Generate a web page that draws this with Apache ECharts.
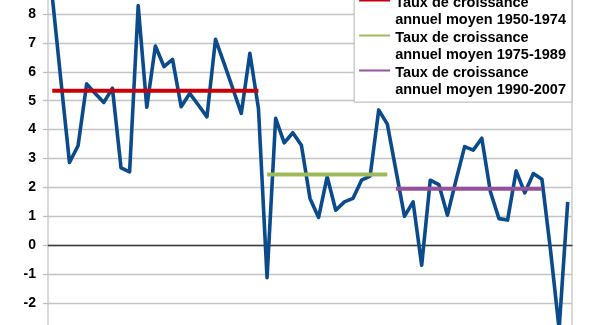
<!DOCTYPE html>
<html>
<head>
<meta charset="utf-8">
<script src="https://cdn.jsdelivr.net/npm/echarts@6/dist/echarts.min.js"></script>
<style>
html,body{margin:0;padding:0;background:#fff;overflow:hidden;width:600px;height:325px;}
#c{position:absolute;left:0;top:-14.87px;width:600px;height:346.5px;}
</style>
</head>
<body>
<div id="c"></div>
<script>
var years = [];
for (var y = 1950; y <= 2010; y++) years.push(String(y));

var growth = [8.6, 5.7, 2.86, 3.44, 5.58, 5.25, 4.94, 5.43, 2.68, 2.54,
  8.29, 4.77, 6.89, 6.18, 6.43, 4.79, 5.25, 4.85, 4.44, 7.12,
  6.29, 5.43, 4.56, 6.64, 4.73, -1.12, 4.39, 3.54, 3.89, 3.46,
  1.62, 0.96, 2.37, 1.21, 1.50, 1.62, 2.25, 2.39, 4.68, 4.19,
  2.6, 1.0, 1.5, -0.69, 2.25, 2.1, 1.04, 2.25, 3.41, 3.29,
  3.70, 1.85, 0.92, 0.87, 2.57, 1.81, 2.48, 2.28, -0.17, -2.9,
  1.5];

var avgNames = ["Taux de croissance\nannuel moyen 1950-1974",
                "Taux de croissance\nannuel moyen 1975-1989",
                "Taux de croissance\nannuel moyen 1990-2007"];
var avgValues = [5.34, 2.45, 1.95];
var avgStart = [1950, 1975, 1990];
var avgEnd = [1974, 1989, 2007];
var avgColors = ["#c8000a", "#9bbb59", "#93529c"];

function avgSeries(k) {
  return years.map(function (yr) {
    var n = Number(yr);
    return (n >= avgStart[k] && n <= avgEnd[k]) ? avgValues[k] : null;
  });
}

var series = [{
  name: "Croissance",
  type: "line",
  data: growth,
  symbol: "none",
  color: "#0b4b8c",
  lineStyle: { width: 3.6, color: "#0b4b8c", join: "round" },
  z: 2
}];
for (var k = 0; k < 3; k++) {
  series.push({
    name: avgNames[k],
    type: "line",
    data: avgSeries(k),
    symbol: "none",
    color: avgColors[k],
    itemStyle: { color: avgColors[k] },
    lineStyle: { width: 4, color: avgColors[k] },
    z: 3
  });
}

var chart = echarts.init(document.getElementById("c"), null, { renderer: "canvas" });
chart.setOption({
  animation: false,
  backgroundColor: "#fff",
  grid: {
    left: 48, right: 28, top: 0, bottom: 0,
    show: true, borderColor: "#b3b3b3", borderWidth: 1,
    containLabel: false
  },
  xAxis: {
    type: "category",
    data: years,
    boundaryGap: true,
    axisLine: { show: true, onZero: true, lineStyle: { color: "#3a3a3a", width: 1.3 } },
    axisTick: { show: false },
    axisLabel: { show: false },
    splitLine: { show: false }
  },
  yAxis: {
    type: "value",
    min: -3, max: 9, interval: 1,
    axisLine: { show: false },
    axisTick: { show: true, length: 5, lineStyle: { color: "#c0c0c0", width: 1.3 } },
    axisLabel: {
      showMinLabel: false, showMaxLabel: false, margin: 12,
      color: "#000", fontWeight: "bold", fontSize: 14,
      fontFamily: "Liberation Sans, Arial, sans-serif"
    },
    splitLine: { show: true, lineStyle: { color: "#c4c4c4", width: 1.3 } }
  },
  legend: {
    data: avgNames,
    orient: "vertical",
    right: 28, top: 6.12,
    padding: [3, 6, 3, 5],
    itemGap: 0,
    itemWidth: 31, itemHeight: 35,
    icon: "path://M0,0h0.01v0.01h-0.01z M0,5.5h31v2h-31z M0,34.99h0.01v0.01h-0.01z",
    itemStyle: { borderWidth: 0 },
    backgroundColor: "#fff",
    borderColor: "#b3b3b3", borderWidth: 1, borderRadius: 0,
    textStyle: {
      color: "#000", fontWeight: "bold", fontSize: 14.5, lineHeight: 17.5,
      fontFamily: "Liberation Sans, Arial, sans-serif"
    },
    z: 10
  },
  series: series
});
</script>
</body>
</html>
